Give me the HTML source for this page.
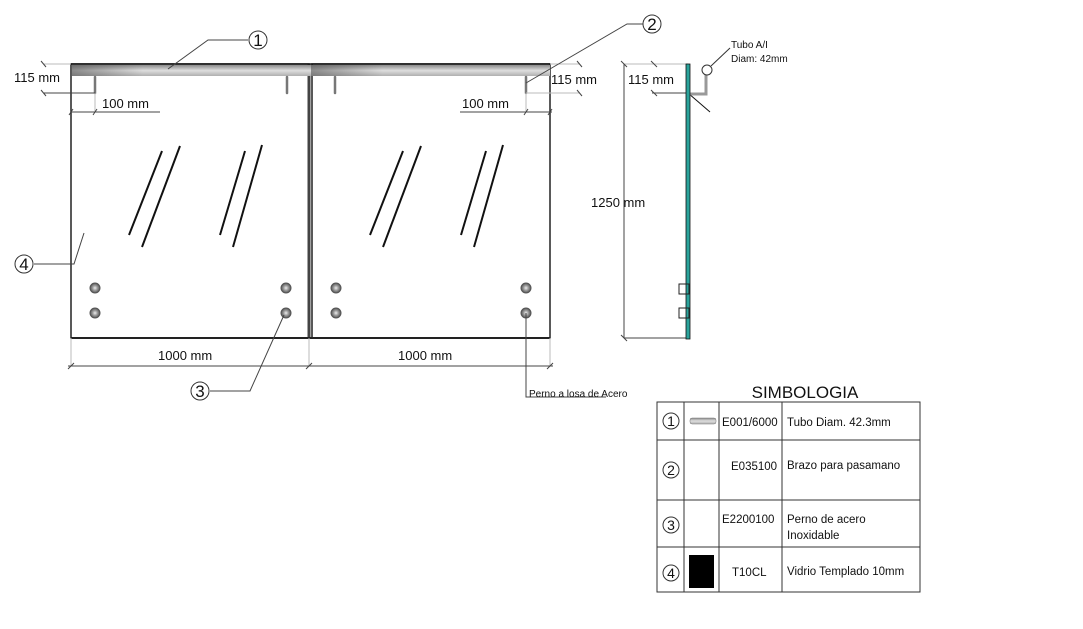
<!DOCTYPE html>
<html><head><meta charset="utf-8"><style>
html,body{margin:0;padding:0;background:#fff;}
svg{display:block;font-family:"Liberation Sans","DejaVu Sans",sans-serif;}
</style></head><body>
<svg width="1083" height="629" viewBox="0 0 1083 629" xmlns="http://www.w3.org/2000/svg">
<defs>
<linearGradient id="rail" x1="0" y1="0" x2="0" y2="1">
<stop offset="0" stop-color="#8a8a8a"/><stop offset="0.5" stop-color="#dedede"/><stop offset="1" stop-color="#b0b0b0"/>
</linearGradient>
<linearGradient id="railh" x1="0" y1="0" x2="1" y2="0">
<stop offset="0" stop-color="#555" stop-opacity="0.6"/><stop offset="0.3" stop-color="#555" stop-opacity="0"/>
</linearGradient>
<radialGradient id="bolt"><stop offset="0" stop-color="#eee"/><stop offset="0.5" stop-color="#999"/><stop offset="1" stop-color="#555"/></radialGradient>
</defs>
<rect x="71" y="64" width="238" height="274" fill="none" stroke="#222" stroke-width="1.5"/>
<rect x="312" y="64" width="238" height="274" fill="none" stroke="#222" stroke-width="1.5"/>
<line x1="309" y1="64" x2="309" y2="338" stroke="#444" stroke-width="3"/>
<line x1="71" y1="338" x2="550" y2="338" stroke="#222" stroke-width="2"/>
<rect x="72" y="65" width="478" height="11" fill="url(#rail)"/>
<rect x="72" y="65" width="237" height="11" fill="url(#railh)"/>
<rect x="311" y="65" width="239" height="11" fill="url(#railh)"/>
<line x1="71" y1="64" x2="550" y2="64" stroke="#111" stroke-width="1.5"/>
<g stroke="#777" stroke-width="2.5" stroke-linecap="round">
<line x1="95" y1="77" x2="95" y2="93"/><line x1="287" y1="77" x2="287" y2="93"/>
<line x1="335" y1="77" x2="335" y2="93"/><line x1="526" y1="77" x2="526" y2="93"/>
</g>
<g stroke="#111" stroke-width="2">
<line x1="162" y1="151" x2="129" y2="235"/><line x1="180" y1="146" x2="142" y2="247"/>
<line x1="245" y1="151" x2="220" y2="235"/><line x1="262" y1="145" x2="233" y2="247"/>
<line x1="403" y1="151" x2="370" y2="235"/><line x1="421" y1="146" x2="383" y2="247"/>
<line x1="486" y1="151" x2="461" y2="235"/><line x1="503" y1="145" x2="474" y2="247"/>
</g>
<g fill="url(#bolt)" stroke="#555" stroke-width="1">
<circle cx="95" cy="288" r="5"/><circle cx="95" cy="313" r="5"/>
<circle cx="286" cy="288" r="5"/><circle cx="286" cy="313" r="5"/>
<circle cx="336" cy="288" r="5"/><circle cx="336" cy="313" r="5"/>
<circle cx="526" cy="288" r="5"/><circle cx="526" cy="313" r="5"/>
</g>
<g stroke="#444" stroke-width="1" fill="none">
<line x1="44" y1="64" x2="71" y2="64" stroke="#bbb"/>
<line x1="44" y1="93" x2="95" y2="93"/>
<line x1="41" y1="61" x2="46" y2="67"/><line x1="41" y1="90" x2="46" y2="96"/>
<line x1="71" y1="112" x2="160" y2="112"/>
<line x1="95" y1="93" x2="95" y2="112" stroke="#bbb"/>
<line x1="69" y1="115" x2="73" y2="109"/><line x1="93" y1="115" x2="97" y2="109"/>
<line x1="550" y1="64" x2="580" y2="64" stroke="#bbb"/>
<line x1="526" y1="93" x2="580" y2="93" stroke="#bbb"/>
<line x1="577" y1="61" x2="582" y2="67"/><line x1="577" y1="90" x2="582" y2="96"/>
<line x1="460" y1="112" x2="552" y2="112"/>
<line x1="526" y1="93" x2="526" y2="112" stroke="#bbb"/>
<line x1="524" y1="115" x2="528" y2="109"/><line x1="548" y1="115" x2="552" y2="109"/>
<line x1="71" y1="338" x2="71" y2="366" stroke="#bbb"/>
<line x1="309" y1="338" x2="309" y2="366" stroke="#bbb"/>
<line x1="550" y1="338" x2="550" y2="366" stroke="#bbb"/>
<line x1="68" y1="366" x2="553" y2="366"/>
<line x1="68" y1="369" x2="74" y2="363"/><line x1="306" y1="369" x2="312" y2="363"/><line x1="547" y1="369" x2="553" y2="363"/>
<polyline points="168,69 208,40 248,40"/>
<polyline points="643,24 627,24 526,83"/>
<polyline points="34,264 74,264 84,233"/>
<polyline points="210,391 250,391 284,315"/>
<polyline points="526,313 526,397 606,397"/>
</g>
<g font-size="13" fill="#111">
<text x="14" y="82">115 mm</text>
<text x="102" y="108">100 mm</text>
<text x="462" y="108">100 mm</text>
<text x="551" y="84">115 mm</text>
<text x="158" y="360">1000 mm</text>
<text x="398" y="360">1000 mm</text>
<text x="591" y="207">1250 mm</text>
<text x="628" y="84">115 mm</text>
</g>
<text x="529" y="397" font-size="10" fill="#111">Perno a losa de Acero</text>
<text x="731" y="48" font-size="10" fill="#111">Tubo A/I</text>
<text x="731" y="62" font-size="10" fill="#111">Diam: 42mm</text>
<g fill="#fff" stroke="#333" stroke-width="1">
<circle cx="258" cy="40" r="9"/><circle cx="652" cy="24" r="9"/>
<circle cx="24" cy="264" r="9"/><circle cx="200" cy="391" r="9"/>
</g>
<g font-size="17" fill="#111" text-anchor="middle">
<text x="258" y="46">1</text><text x="652" y="30">2</text>
<text x="24" y="270">4</text><text x="200" y="397">3</text>
</g>
<g stroke="#444" stroke-width="1" fill="none">
<line x1="624" y1="64" x2="624" y2="338"/>
<line x1="624" y1="64" x2="688" y2="64" stroke="#bbb"/>
<line x1="624" y1="338" x2="688" y2="338"/>
<line x1="621" y1="335" x2="627" y2="341"/>
<line x1="621" y1="61" x2="627" y2="67"/>
<line x1="652" y1="93" x2="688" y2="93"/>
<line x1="651" y1="61" x2="657" y2="67"/><line x1="651" y1="90" x2="657" y2="96"/>
<line x1="688" y1="93" x2="710" y2="112" stroke="#111"/>
<line x1="711" y1="66" x2="730" y2="48" stroke="#333"/>
</g>
<polyline points="688,94 706,94 706,74" fill="none" stroke="#999" stroke-width="3"/>
<circle cx="707" cy="70" r="5" fill="#fff" stroke="#333"/>
<rect x="686" y="64" width="4" height="275" fill="#2aa39b" stroke="#111" stroke-width="0.8"/>
<rect x="679" y="284" width="10" height="10" fill="none" stroke="#222"/>
<rect x="679" y="308" width="10" height="10" fill="none" stroke="#222"/>
<text x="805" y="398" font-size="17" fill="#111" text-anchor="middle">SIMBOLOGIA</text>
<g stroke="#333" stroke-width="1" fill="none">
<rect x="657" y="402" width="263" height="190"/>
<line x1="657" y1="440" x2="920" y2="440"/>
<line x1="657" y1="500" x2="920" y2="500"/>
<line x1="657" y1="547" x2="920" y2="547"/>
<line x1="684" y1="402" x2="684" y2="592"/>
<line x1="719" y1="402" x2="719" y2="592"/>
<line x1="782" y1="402" x2="782" y2="592"/>
</g>
<rect x="690" y="418" width="26" height="6" rx="2" fill="url(#rail)" stroke="#777" stroke-width="0.5"/>
<rect x="689" y="555" width="25" height="33" fill="#000"/>
<g fill="#fff" stroke="#333" stroke-width="1">
<circle cx="671" cy="421" r="8"/><circle cx="671" cy="470" r="8"/>
<circle cx="671" cy="525" r="8"/><circle cx="671" cy="573" r="8"/>
</g>
<g font-size="14" fill="#111" text-anchor="middle">
<text x="671" y="426">1</text><text x="671" y="475">2</text>
<text x="671" y="530">3</text><text x="671" y="578">4</text>
</g>
<g font-size="11.5" fill="#111">
<text x="722" y="426">E001/6000</text>
<text x="731" y="470">E035100</text>
<text x="722" y="523">E2200100</text>
<text x="732" y="576">T10CL</text>
<text x="787" y="426">Tubo Diam. 42.3mm</text>
<text x="787" y="469">Brazo para pasamano</text>
<text x="787" y="523">Perno de acero</text>
<text x="787" y="539">Inoxidable</text>
<text x="787" y="575">Vidrio Templado 10mm</text>
</g>
</svg>
</body></html>
